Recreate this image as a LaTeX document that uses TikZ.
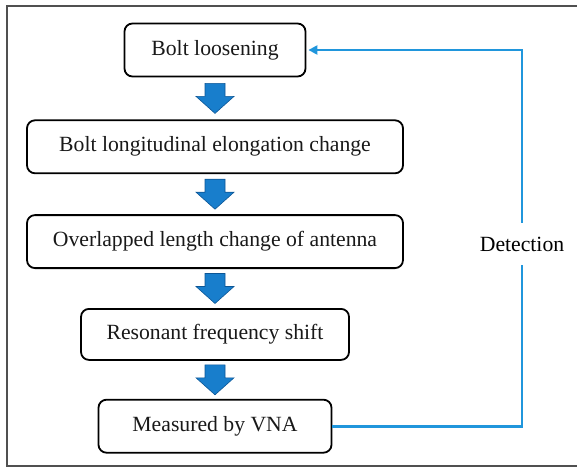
\documentclass[tikz,border=0pt]{standalone}
\usepackage{fontspec}
\setmainfont{Liberation Serif}
\usetikzlibrary{arrows,arrows.meta,calc,positioning}

\definecolor{arrowblue}{RGB}{24,126,204}
\definecolor{arrowedge}{RGB}{12,86,150}
\definecolor{loopblue}{RGB}{32,150,220}
\definecolor{framegray}{RGB}{80,80,80}

% block arrow pointing down between two boxes
\newcommand{\blockdown}[2]{%
  \coordinate (m) at ($(#1.south)!0.5!(#2.north)$);
  \draw[blockarrow] ($(m)+(-10,15)$) -- ($(m)+(10,15)$) -- ($(m)+(10,2)$)
    -- ($(m)+(19,2)$) -- ($(m)+(0,-15)$) -- ($(m)+(-19,2)$)
    -- ($(m)+(-10,2)$) -- cycle;}

\begin{document}
\begin{tikzpicture}[x=1pt, y=1pt, >={Triangle[length=9pt,width=9pt]},
    font=\fontsize{21.7}{26}\selectfont,
    stepbox/.style={draw, line width=1.8pt, rounded corners=8pt,
      minimum height=53pt, inner sep=0pt, text=black!90},
    blockarrow/.style={fill=arrowblue, draw=arrowedge, line width=0.6pt},
    feedback/.style={draw=loopblue, line width=2.8pt}]
    \useasboundingbox (0,0) rectangle (577,467);
    \draw[framegray, line width=2pt] (7,1) rectangle (595,461);

    \node [stepbox, minimum width=181pt] at (215,417)  (loosen) {Bolt loosening};
    \node [stepbox, minimum width=376pt] [below=42pt of loosen] (elong) {Bolt longitudinal elongation change};
    \node [stepbox, minimum width=376pt] [below=40pt of elong]  (overlap) {Overlapped length change of antenna};
    \node [stepbox, minimum width=268pt, minimum height=51pt] [below=39pt of overlap] (shift) {Resonant frequency shift};
    \node [stepbox, minimum width=233pt] [below=38pt of shift]  (vna) {Measured by VNA};

    \blockdown{loosen}{elong}
    \blockdown{elong}{overlap}
    \blockdown{overlap}{shift}
    \blockdown{shift}{vna}

    \coordinate (corner) at (522,420);
    \draw[feedback, ->] (vna.east) -| (corner |- loosen.east) -- ([xshift=2pt]loosen.east);
    \node [fill=white, inner xsep=2pt, inner ysep=14pt] at (522,223) (det) {Detection};
  \end{tikzpicture}
\end{document}
